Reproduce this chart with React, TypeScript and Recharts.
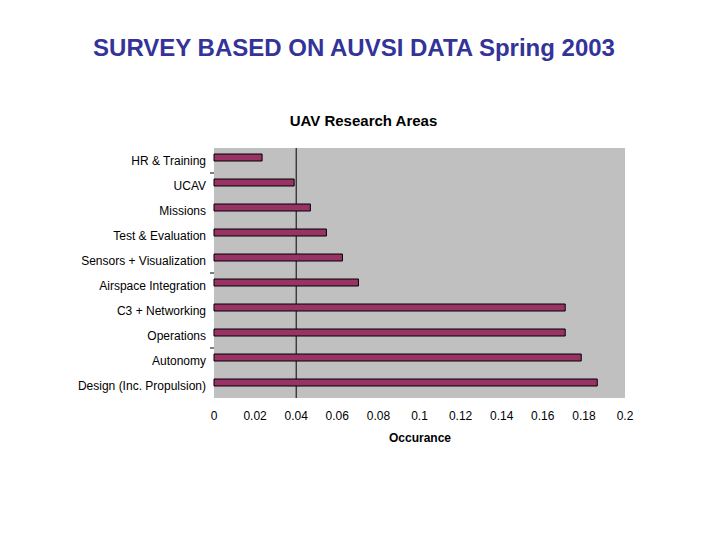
import { BarChart, Bar, XAxis, YAxis, CartesianGrid } from "recharts";

const areas = [
  "HR & Training",
  "UCAV",
  "Missions",
  "Test & Evaluation",
  "Sensors + Visualization",
  "Airspace Integration",
  "C3 + Networking",
  "Operations",
  "Autonomy",
  "Design (Inc. Propulsion)",
];

const occurance = [0.0234, 0.039, 0.0469, 0.0547, 0.0625, 0.0703, 0.1709, 0.1709, 0.1787, 0.1865];

const xTicks = [0, 0.02, 0.04, 0.06, 0.08, 0.1, 0.12, 0.14, 0.16, 0.18, 0.2];

// the original only shows a few tick marks on the category axis (below these rows)
const tickMarkRows = [0, 4, 7];

const data = areas.map((name, i) => ({ name, value: occurance[i] }));

const FONT = "'Liberation Sans', Arial, sans-serif";

// plain text tick so long names don't wrap
function AreaTick(props: any) {
  const { x, y, payload, index } = props;
  return (
    <g>
      <text x={x} y={y} dy={4} textAnchor="end" fontSize={12} fill="#000" fontFamily={FONT}>
        {payload.value}
      </text>
      {tickMarkRows.includes(index) && (
        <line x1={x + 4} x2={x + 8} y1={y + 12.5} y2={y + 12.5} stroke="#000" />
      )}
    </g>
  );
}

export default function App() {
  return (
    <div
      style={{
        position: "absolute",
        left: 0,
        top: 0,
        width: 720,
        height: 540,
        background: "#fff",
        fontFamily: FONT,
      }}
    >
      <div
        style={{
          position: "absolute",
          top: 34,
          left: 0,
          width: 708,
          textAlign: "center",
          fontSize: 24,
          fontWeight: "bold",
          color: "#333399",
        }}
      >
        SURVEY BASED ON AUVSI DATA Spring 2003
      </div>
      <div
        style={{
          position: "absolute",
          top: 112,
          left: 0,
          width: 727,
          textAlign: "center",
          fontSize: 15,
          fontWeight: "bold",
          color: "#000",
        }}
      >
        UAV Research Areas
      </div>
      <div
        style={{
          position: "absolute",
          top: 431,
          left: 0,
          width: 840,
          textAlign: "center",
          fontSize: 12,
          fontWeight: "bold",
          color: "#000",
        }}
      >
        Occurance
      </div>
      <BarChart
        width={720}
        height={540}
        data={data}
        layout="vertical"
        margin={{ top: 148, right: 95, bottom: 112, left: 74 }}
        barCategoryGap={0}
        barGap={0}
      >
        <CartesianGrid
          horizontal={false}
          verticalValues={[0.04]}
          fill="#c0c0c0"
          fillOpacity={1}
          stroke="#000"
        />
        <XAxis
          type="number"
          domain={[0, 0.2]}
          ticks={xTicks}
          interval={0}
          axisLine={false}
          tickLine={false}
          tickMargin={7}
          height={30}
          tick={{ fontSize: 12, fill: "#000", fontFamily: FONT }}
        />
        <YAxis
          type="category"
          dataKey="name"
          width={140}
          axisLine={false}
          tickLine={false}
          interval={0}
          tick={<AreaTick />}
        />
        <Bar
          dataKey="value"
          fill="#993366"
          stroke="#000"
          strokeWidth={1}
          barSize={7}
          isAnimationActive={false}
        />
        {/* empty slot: Excel sits the bars a little above the band centre */}
        <Bar dataKey="none" barSize={6} fill="none" isAnimationActive={false} />
      </BarChart>
    </div>
  );
}
